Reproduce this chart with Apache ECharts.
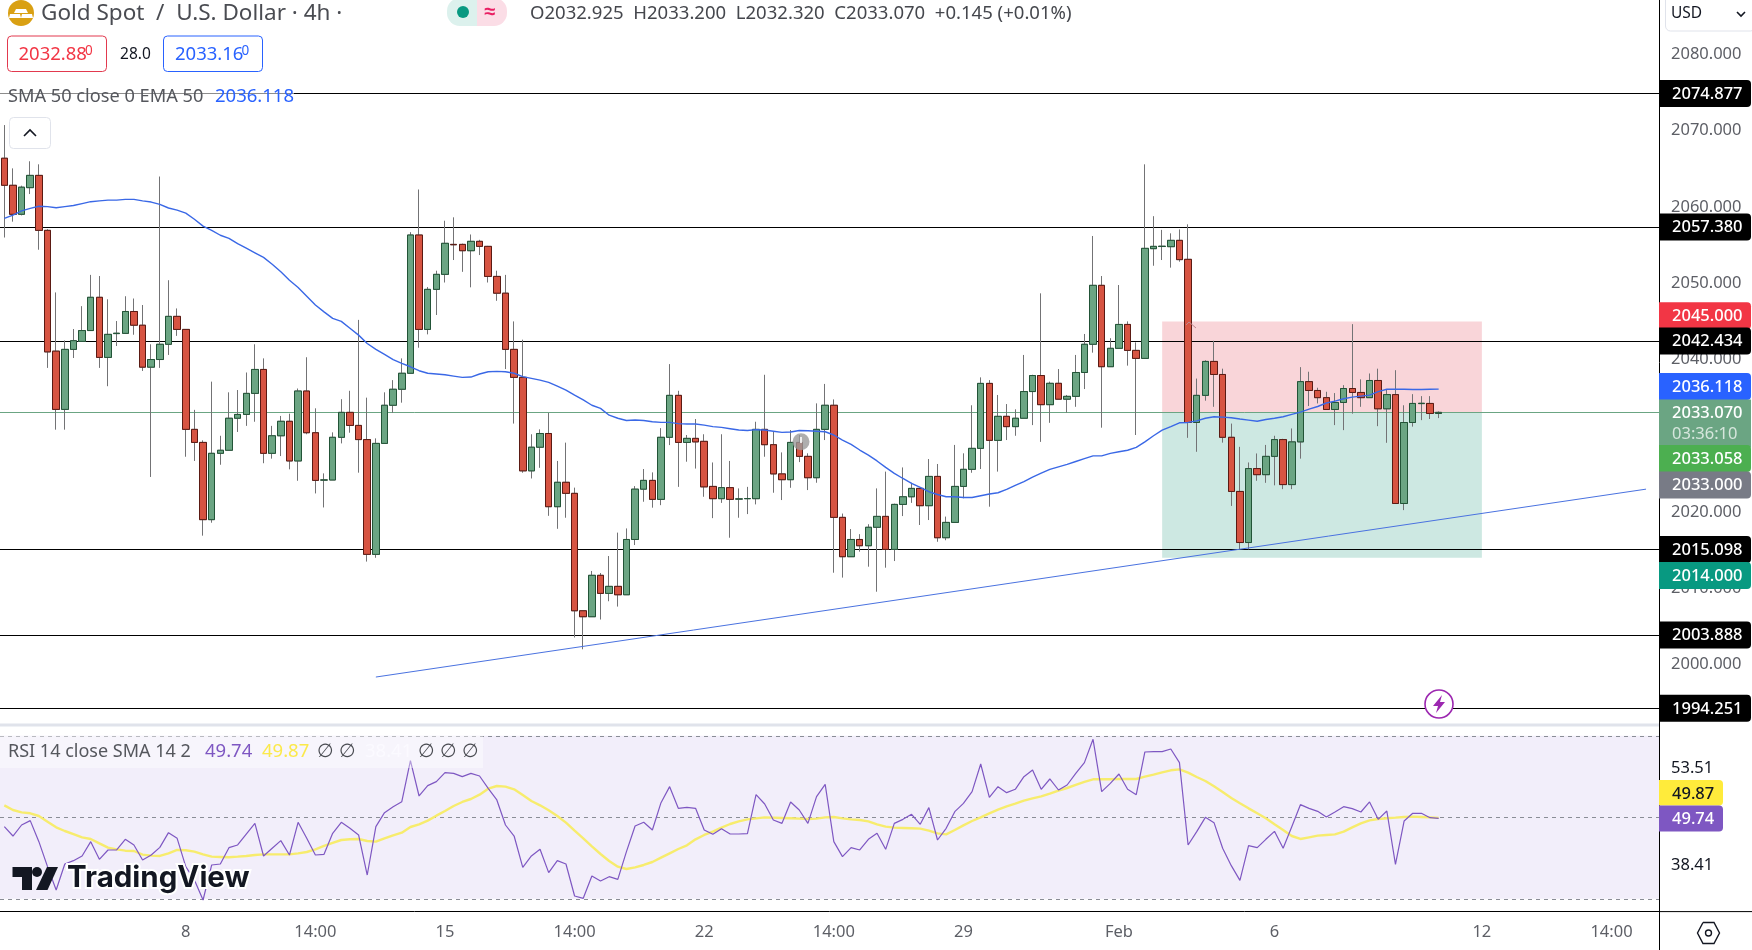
<!DOCTYPE html>
<html><head><meta charset="utf-8">
<style>html,body{margin:0;padding:0;background:#fff}#c{width:1752px;height:950px}</style>
<script src="https://cdn.jsdelivr.net/npm/echarts@6/dist/echarts.min.js"></script>
</head><body><div id="c"></div>
<script>
const opens=[2066.4,2062.85,2059.05,2062.54,2064.15,2056.94,2041.1,2033.46,2041.33,2042.38,
2043.8,2048.16,2040.28,2043.4,2043.43,2046.3,2044.5,2039,2040,2042,
2045.66,2043.95,2030.84,2029.13,2019,2027.7,2028.1,2032.3,2032.8,2035.56,
2038.7,2027.7,2030,2031.9,2026.7,2035.87,2030.4,2024.2,2024.2,2029.8,
2033.07,2031.36,2029.5,2014.45,2029,2034,2036.1,2038.2,2056.33,2043.95,
2049.2,2051.17,2055.1,2055.1,2054.27,2055.5,2054.84,2050.9,2048.7,2041.33,
2037.66,2025.4,2028.5,2030.3,2020.7,2023.9,2022.45,2007.05,2006.27,2011.7,
2009.33,2010.25,2009.15,2016.4,2023,2024.15,2021.66,2029.8,2035.3,2029.13,
2029.66,2029.27,2023.36,2021.75,2023.2,2021.7,2021.75,2021.75,2030.84,2028.83,
2025,2024.24,2029.13,2027.3,2024.5,2030.84,2034,2019.3,2014.14,2016.4,
2015.58,2018,2019.43,2015.1,2021,2022,2023.1,2020.83,2024.67,2016.63,
2018.64,2023.36,2025.6,2028.35,2036.87,2029.4,2032.55,2031.2,2032.3,2035.8,
2037.9,2034.08,2036.88,2034.8,2035.17,2038.3,2042,2049.73,2039.06,2041.47,
2044.6,2041.2,2040.15,2054.54,2054.82,2054.8,2055.63,2053.14,2031.74,2035.3,
2039.75,2038.04,2029.8,2022.7,2016,2025.7,2024.9,2027.3,2029.5,2023.6,
2029.2,2037.1,2035.94,2035,2033.45,2034.37,2036.2,2035.68,2035,2037.25,
2033.54,2035.4,2021.12,2031.74,2034.22,2034.24,2032.925];
const closes=[2062.85,2059.05,2062.6,2064.15,2056.94,2041.0,2033.46,2041.33,2042.47,2043.8,
2048.16,2040.28,2043.3,2043.45,2046.3,2044.5,2039,2040,2042,2045.66,
2043.95,2030.84,2029.13,2019,2027.7,2028.1,2032.3,2032.8,2035.56,2038.7,
2027.7,2030,2031.9,2026.7,2035.87,2030.4,2024.15,2024.2,2029.8,2033.07,
2031.36,2029.5,2014.45,2029,2034,2036.1,2038.2,2056.33,2043.95,2049.2,
2051.17,2055.24,2055.05,2054.27,2055.5,2054.84,2050.9,2048.7,2041.33,2037.66,
2025.4,2028.5,2030.3,2020.7,2023.9,2022.45,2007.05,2006.27,2011.7,2009.33,
2010.25,2009.15,2016.4,2023,2024.15,2021.66,2029.8,2035.3,2029.13,2029.66,
2029.2,2023.3,2021.75,2023.2,2021.66,2021.72,2021.77,2030.84,2028.83,2025,
2024.24,2029.13,2027.3,2024.5,2030.84,2034,2019.3,2014.14,2016.4,2015.58,
2018,2019.43,2015.1,2021,2022,2023.1,2020.83,2024.67,2016.63,2018.64,
2023.36,2025.6,2028.35,2036.87,2029.4,2032.55,2031.2,2032.3,2035.8,2037.9,
2034.08,2036.88,2034.8,2035.17,2038.3,2042,2049.73,2039.06,2041.47,2044.6,
2041.2,2040.15,2054.58,2054.84,2054.86,2055.63,2053.1,2031.74,2035.3,2039.75,
2038.04,2029.8,2022.7,2016,2025.7,2024.9,2027.3,2029.5,2023.6,2029.2,
2037.1,2035.94,2035,2033.45,2034.37,2036.2,2035.68,2035,2037.25,2033.54,
2035.4,2021.12,2031.74,2034.24,2034.26,2032.93,2033.07];
const highs=[2070.75,2065.07,2062.8,2066,2065.6,2057.1,2048.8,2042.5,2044,2047,
2051.1,2050.95,2047.9,2045.05,2048.3,2048,2047.15,2042,2064,2050.4,
2046.7,2044,2033.4,2029.4,2037.1,2030,2035.7,2036,2038.3,2042,
2040.15,2031.3,2032.6,2032.9,2036.2,2040.3,2033.6,2025.07,2030.45,2034.8,
2035.9,2045.2,2035,2029.66,2035.7,2037.3,2040.15,2056.7,2062.3,2049.5,
2051.65,2058.2,2058.65,2055.2,2056.4,2055.7,2054.9,2051.65,2051.1,2045,
2042.6,2030.2,2030.84,2033,2026.7,2029.1,2023.2,2007.05,2012.27,2012,
2014.23,2017.3,2017.85,2023.4,2025.64,2025.2,2031,2039.4,2035.9,2030.1,
2032.2,2030.2,2026.5,2030.2,2026.7,2023.1,2023.3,2031.84,2038,2030.58,
2027.82,2030.75,2030.1,2027.7,2034.25,2036.8,2034.77,2019.8,2017.77,2017.1,
2018.4,2023.1,2025.3,2021.1,2025.85,2023.84,2023.15,2026.95,2026.3,2019.4,
2028.8,2027.7,2034,2037.66,2037.3,2035.35,2034.16,2033.47,2040.6,2038.0,
2048.68,2037.1,2038.75,2035.35,2040.6,2043.35,2056.2,2050.95,2042.8,2049.77,
2045,2042.25,2065.6,2058.8,2057,2056.55,2057.07,2057.73,2037.5,2039.9,
2042.46,2038.8,2031.6,2028.55,2026.5,2027.68,2028.8,2030,2029.6,2030.96,
2039,2038.4,2036.3,2035.77,2035.6,2036.64,2044.64,2037.4,2038.17,2038.8,
2036.1,2038.6,2034,2035.46,2035.2,2035.2,2033.2];
const lows=[2056,2058.08,2058.9,2061.7,2054.4,2038.9,2030.8,2030.8,2040.2,2042.38,
2043.8,2038.9,2036.5,2041.77,2043.4,2043.25,2038.5,2024.6,2038.9,2040.6,
2043.1,2027.25,2026.7,2016.9,2018.6,2026.2,2028.1,2030.5,2031.3,2031.84,
2026.4,2027,2027.34,2025.6,2024.1,2030.2,2022.44,2020.6,2024.2,2029,
2030.4,2025.16,2013.5,2014,2029,2033,2034.34,2038.2,2041.55,2043.3,
2045.84,2050.1,2053.05,2051.5,2049.47,2053.7,2050.1,2047.7,2038.75,2031.6,
2025.15,2024.4,2025.8,2019.5,2017.8,2019.25,2003.55,2002,2006.27,2005.9,
2008.3,2007.6,2009.15,2015.67,2021.35,2020.57,2020.9,2028.78,2023.3,2026.6,
2025.7,2022,2019.2,2021.2,2016.63,2019.25,2019.73,2021,2027.25,2022.53,
2021.57,2023.18,2026.55,2022.88,2023.84,2029.44,2012.04,2011.4,2014.14,2014.8,
2012.83,2009.55,2012.7,2013.57,2019.47,2021.2,2018.3,2018.95,2016.1,2016.3,
2018.64,2021.8,2025.15,2025.64,2020.7,2025.3,2029.44,2030,2032.3,2031.4,
2029.2,2031.7,2034.8,2033.03,2033.8,2036.13,2040.9,2031.06,2039.06,2041.47,
2039.2,2030.1,2040.15,2052.3,2053.05,2052.05,2052.83,2029.73,2027.9,2034.6,
2033.8,2029.1,2020.8,2015.1,2015.1,2024.1,2023.83,2023.5,2023,2023,
2027,2033.9,2034.24,2033.45,2031.4,2030.74,2032.9,2033.8,2035,2031.26,
2029.08,2021.12,2020.25,2031.2,2032.05,2032.2,2032.32];
const ema50=[2058.5,2058.95,2059.5,2059.83,2060.1,2060.05,2059.9,2060.05,2060.2,2060.45,
2060.7,2060.8,2060.9,2060.9,2061,2061,2060.8,2060.65,2060.35,2059.87,
2059.6,2059.2,2058.4,2057.5,2056.95,2056.3,2055.9,2055.2,2054.6,2054,
2053.4,2052.5,2051.5,2050.4,2049.45,2048.3,2047.15,2046.25,2045.4,2045,
2044.1,2043.2,2042.1,2041.33,2040.67,2040,2039.5,2039.05,2038.53,2038.2,
2038.1,2038,2037.83,2037.66,2037.7,2038.1,2038.4,2038.45,2038.4,2038.2,
2037.75,2037.53,2037.3,2037,2036.5,2036,2035.34,2034.7,2034,2033.6,
2032.7,2032.3,2032,2032.06,2032,2031.84,2031.76,2031.76,2031.6,2031.54,
2031.54,2031.4,2031.2,2031.1,2030.93,2030.75,2030.7,2030.8,2030.75,2030.6,
2030.44,2030.5,2030.7,2030.66,2030.6,2030.53,2030.1,2029.44,2028.87,2028.13,
2027.47,2026.7,2025.85,2025.07,2024.4,2023.76,2023.23,2022.66,2022.3,2022,
2022,2021.9,2021.9,2022.14,2022.36,2022.53,2022.96,2023.5,2024,2024.58,
2025.1,2025.6,2025.93,2026.24,2026.63,2027,2027.37,2027.37,2027.7,2027.9,
2028.1,2028.47,2029.2,2030,2030.74,2031.2,2031.7,2031.75,2031.96,2032.3,
2032.5,2032.45,2032.36,2032.2,2032.05,2031.9,2032.14,2032.3,2032.5,2032.8,
2033.1,2033.5,2033.84,2034.3,2034.54,2034.85,2035.07,2035.2,2035.33,2035.8,
2036.1,2036.1,2036.1,2036.07,2036.07,2036.1,2036.118];
const rsi=[47.7,45.41,48.11,49.18,44.02,37.89,32.16,38.54,39.36,40.51,
44.02,39.69,41.98,41.98,44.6,43.21,39.52,40.75,42.63,46.23,
44.84,37.89,34.62,29.71,38.3,38.54,42.55,43.21,45.9,48.52,
40.51,42.39,44.27,40.75,48.77,44.84,40.75,40.91,46.07,48.77,
47.3,45.66,35.84,47.7,51.14,52.61,53.84,63.9,55.23,57.77,
58.75,60.96,60.79,59.97,60.79,60.14,57.11,54.25,48.11,45.41,
37.72,40.51,42.14,36.42,39.36,38.54,30.69,30.12,35.6,34.37,
35.43,34.78,41.57,47.87,48.77,46.89,53.59,57.52,52.2,52.45,
52.2,46.89,45.82,47.21,45.9,45.9,45.99,55.56,53.27,49.34,
48.52,53.76,51.79,48.52,55.07,58.09,44.02,40.34,42.55,41.98,
44.6,46.07,42.14,48.52,49.5,50.73,48.28,52.37,44.43,47.3,
51.38,53.43,56.29,63.08,54.9,57.52,56.05,56.87,59.97,61.61,
56.87,59.4,56.7,57.93,60.79,63.41,69.14,56.29,58.34,60.63,
56.87,55.56,66.03,66.11,66.11,66.76,63.41,43.21,46.48,49.99,
48.69,42.39,38.13,34.53,43.04,42.55,44.6,46.56,42.39,47.7,
53.1,52.2,51.47,50.08,51.3,52.61,52.12,51.3,53.76,49.5,
51.55,38.46,49.09,50.98,50.98,49.91,49.74];
const rsiMa=[52.94,51.79,51.22,50.98,50.32,48.93,47.54,46.64,45.9,45.09,
44.68,43.61,42.55,42.14,41.81,41.73,40.83,40.59,40.51,41.16,
41.98,41.9,41.57,40.91,40.34,40.26,40.18,40.34,40.51,40.75,
40.91,40.91,40.91,40.91,41.16,41.49,42.14,42.96,43.7,44.43,
44.6,44.68,44.19,44.02,44.84,45.58,46.23,47.62,48.28,49.18,
50.4,51.55,52.78,53.76,54.49,55.56,57.03,57.68,57.52,56.87,
55.48,54,52.94,51.71,50.32,48.69,46.72,44.84,42.88,41,
39.28,37.89,37.32,37.72,38.3,39.03,40.1,41.16,42.22,43.12,
44.6,45.66,46.48,47.46,48.36,49.01,49.5,49.75,49.99,49.91,
49.83,49.75,49.67,49.59,49.67,49.99,50.08,49.75,49.5,49.34,
49.01,48.28,47.7,47.46,47.38,47.3,47.21,46.72,46.07,45.82,
46.89,48.03,49.09,49.99,50.98,51.88,52.69,53.35,54.08,54.66,
55.15,55.8,56.54,57.19,57.93,58.67,59.32,59.32,59.32,59.4,
59.4,59.4,59.97,60.46,61.04,61.53,61.77,60.96,59.89,58.91,
57.6,56.21,54.74,53.43,52.2,50.98,49.75,48.28,46.89,45.41,
44.68,45.09,45.5,45.66,45.82,46.48,47.54,48.52,49.26,49.59,
49.75,49.91,50.08,50.16,50.08,49.99,49.87];
const blackLevels=[2074.877,2057.38,2042.434,2015.098,2003.888,1994.251];
const lastPrice=2033.07;
const priceTicks=[2000,2010,2020,2030,2040,2050,2060,2070,2080];
const rsiLevels=[70,50,30];
const tickIndex=[21,36,51,66,81,96,111,129,147,171,186];
const tickText=['8','14:00','15','14:00','22','14:00','29','Feb','6','12','14:00'];
const trendIndex=[43,190];
const trendPrice=[1998.36,2023.0];
const stopZone=[134,171,2045,2033];
const targetZone=[134,171,2033,2014];

const SLOTS=192, AXIS_X=1659, PANE_SPLIT=725, AXIS_Y=911.6;
const FONT='"Noto Sans",sans-serif';
const GREY='#5d5f66';
const categories=Array.from({length:SLOTS},(_,i)=>String(i));
const tickMap=new Map(tickIndex.map((v,i)=>[v,tickText[i]]));
const ohlc=opens.map((o,i)=>[o,closes[i],lows[i],highs[i]]);
const bodies=opens.map((o,i)=>[o,closes[i],Math.min(o,closes[i]),Math.max(o,closes[i])]);

const chart=echarts.init(document.getElementById('c'),null,{renderer:'canvas',width:1752,height:950});
const hl=(v,color,w)=>({yAxis:v,lineStyle:{color,width:w,type:'solid'}});
chart.setOption({
 animation:false,backgroundColor:'#fff',
 grid:[{left:0,width:AXIS_X,top:0,height:PANE_SPLIT},{left:0,width:AXIS_X,top:PANE_SPLIT,height:AXIS_Y-PANE_SPLIT}],
 xAxis:[
  {type:'category',gridIndex:0,data:categories,axisLine:{show:false},axisTick:{show:false},axisLabel:{show:false},splitLine:{show:false}},
  {type:'category',gridIndex:1,data:categories,axisLine:{show:true,onZero:false,lineStyle:{color:'#000',width:1}},axisTick:{show:false},
   axisLabel:{interval:(i)=>tickMap.has(i),formatter:(v,i)=>tickMap.get(i)||'',color:GREY,fontFamily:FONT,fontSize:16.5,margin:12,hideOverlap:false},splitLine:{show:false}}
 ],
 yAxis:[
  {type:'value',gridIndex:0,position:'right',min:1992.07,max:2087.15,scale:true,splitLine:{show:false},axisTick:{show:false},
   axisLine:{show:true,lineStyle:{color:'#000',width:1}},
   axisLabel:{customValues:priceTicks,formatter:(v)=>v.toFixed(3),color:GREY,fontFamily:FONT,fontSize:16.5,margin:12}},
  {type:'value',gridIndex:1,position:'right',min:26.86,max:72.65,scale:true,splitLine:{show:false},axisTick:{show:false},
   axisLine:{show:true,lineStyle:{color:'#000',width:1}},axisLabel:{show:false}}
 ],
 series:[
  {type:'candlestick',name:'Wicks',xAxisIndex:0,yAxisIndex:0,data:ohlc,barWidth:7,z:3,
   itemStyle:{color:'#737375',color0:'#737375',borderColor:'#737375',borderColor0:'#737375',borderWidth:1},
   markArea:{silent:true,z:1,data:[
     [{xAxis:stopZone[0],yAxis:stopZone[2],itemStyle:{color:'#f9d5d9'}},{xAxis:stopZone[1],yAxis:stopZone[3]}],
     [{xAxis:targetZone[0],yAxis:targetZone[2],itemStyle:{color:'#cde8e2'}},{xAxis:targetZone[1],yAxis:targetZone[3]}]
   ]},
   markLine:{silent:true,symbol:'none',z:2,label:{show:false},precision:3,animation:false,data:[
     ...blackLevels.map(v=>hl(v,'#000',1.2)),hl(lastPrice,'#6ba583',1),
   ]}},
  {type:'candlestick',name:'Gold Spot / U.S. Dollar',xAxisIndex:0,yAxisIndex:0,data:bodies,barWidth:7,z:4,
   itemStyle:{color:'#6ba583',color0:'#d75442',borderColor:'#225437',borderColor0:'#5b1a13',borderWidth:1}},
  {type:'line',name:'EMA 50',xAxisIndex:0,yAxisIndex:0,data:ema50,showSymbol:false,symbol:'none',z:5,
   lineStyle:{color:'#3a68e6',width:1.4},
   markLine:{silent:true,symbol:'none',label:{show:false},z:5,data:[[
     {xAxis:trendIndex[0],yAxis:trendPrice[0],lineStyle:{color:'#4a72e0',width:1,type:'solid'}},
     {xAxis:trendIndex[1],yAxis:trendPrice[1]}]]}},
  {type:'line',name:'RSI',xAxisIndex:1,yAxisIndex:1,data:rsi,showSymbol:false,symbol:'none',z:5,
   lineStyle:{color:'#7e57c2',width:1.2},
   markArea:{silent:true,z:1,itemStyle:{color:'#f2eefa'},data:[[{yAxis:rsiLevels[0]},{yAxis:rsiLevels[2]}]]},
   markLine:{silent:true,symbol:'none',label:{show:false},z:2,lineStyle:{color:'#8a8d96',width:1,type:[4,4]},
     data:rsiLevels.map(v=>({yAxis:v}))}},
  {type:'line',name:'RSI MA',xAxisIndex:1,yAxisIndex:1,data:rsiMa,showSymbol:false,symbol:'none',z:4,
   lineStyle:{color:'#f7ec6d',width:2.4}}
 ]
});

// overlays: header text, legends, axis price tags
const Z=100;
const txt=(x,y,text,color,size,o={})=>({type:'text',z:Z+(o.z||2),silent:true,x,y,style:{text,fill:color,font:`${o.weight||'normal'} ${size}px ${o.font||FONT}`,textAlign:o.align||'left',textVerticalAlign:'middle',stroke:o.stroke,lineWidth:o.lw||0}});
const rect=(x,y,w,h,fill,o={})=>({type:'rect',z:Z+(o.z||1),silent:true,shape:{x,y,width:w,height:h,r:o.r||0},style:{fill,stroke:o.stroke,lineWidth:o.lw||1}});
const poly=(points,fill,o={})=>({type:'polygon',z:Z+(o.z||2),silent:true,shape:{points},style:{fill}});
const pline=(points,stroke,w,o={})=>({type:'polyline',z:Z+(o.z||2),silent:true,shape:{points},style:{stroke,lineWidth:w,fill:'none'}});
const circ=(cx,cy,r,fill,o={})=>({type:'circle',z:Z+(o.z||1),silent:true,shape:{cx,cy,r},style:{fill,stroke:o.stroke,lineWidth:o.lw||1,opacity:o.op==null?1:o.op}});
const yOf=(v)=>chart.convertToPixel({yAxisIndex:0},v);

const TAG_W=92,TAG_H=27;
const tag=(label,y,bg,o={})=>[
 rect(AXIS_X,y-TAG_H/2,o.w||TAG_W,o.h||TAG_H,bg,{r:[0,4,4,0],z:o.z||3}),
 txt(AXIS_X+(o.tx||13),y+.5,label,o.color||'#fff',16.5,{weight:'500',z:(o.z||3)+1})
];
const els=[
 // top-right currency box
 rect(1665.5,-6,90,37,'#fff',{r:5,stroke:'#e0e3eb'}),
 txt(1671,14,'USD','#131722',15.5),
 pline([[1737,12],[1741,16],[1745,12]],'#131722',1.6),
 // title
 circ(21,13,13,'#d9a013'),
 poly([[16,9],[26,9],[28,13],[14,13]],'#fff'),poly([[10,14],[20,14],[21,18],[9,18]],'#fff'),poly([[22,14],[32,14],[33,18],[21,18]],'#fff'),
 txt(41,13.5,'Gold Spot  /  U.S. Dollar · 4h ·','#4a4c52',22.5),
 rect(447,-2,30,28,'#dcf1ed',{r:[13,0,0,13]}),rect(477,-2,30,28,'#fbdde6',{r:[0,13,13,0]}),
 circ(463,12,6,'#089981',{z:2}),
 txt(490,12,'≈','#e91e63',20,{align:'center',weight:'bold'}),
 txt(530,14,'O2032.925  H2033.200  L2032.320  C2033.070  +0.145 (+0.01%)','#45474d',18.55),
 // bid / ask
 rect(7.5,36,99,35.5,'#fff',{r:4,stroke:'#e2394e',lw:1}),
 txt(18.5,55,'2032.88','#f23645',18.5),txt(85,51,'0','#f23645',13.5),
 txt(135.5,54.5,'28.0','#131722',15.5,{align:'center'}),
 rect(163.5,36,99,35.5,'#fff',{r:4,stroke:'#2962ff',lw:1}),
 txt(175,55,'2033.16','#2962ff',18.5),txt(241.5,51,'0','#2962ff',13.5),
 // moving average legend
 rect(0,82,294,28,'rgba(255,255,255,0.55)'),
 txt(8,97,'SMA 50 close 0 EMA 50','#55575d',18.2),
 txt(215,97,'2036.118','#2962ff',18.5),
 rect(9.5,117.5,41,31,'#fff',{r:4,stroke:'#e0e3eb'}),
 pline([[24,136],[30,130],[36,136]],'#131722',1.6),
 // chart markers
 circ(801,441.7,8.5,'#9a9a9a',{z:1,op:.8}),
 pline([[801,437],[801,443]],'#fff',1.6),
 pline([[1186,325],[1189,322],[1196,328]],'#c08a90',1),
 circ(1439,704,14,'#fff',{z:1,stroke:'#9c27b0',lw:1.6}),
 poly([[1442,695],[1433,706],[1438,706],[1436,713],[1445,702],[1440,702]],'#9c27b0'),
 // pane separator + axis line extension
 rect(0,723.5,AXIS_X,3,'#e0e3eb',{z:0}),
 pline([[AXIS_X,AXIS_Y],[1752,AXIS_Y]],'#000',1),
 pline([[AXIS_X+.5,AXIS_Y],[AXIS_X+.5,950]],'#000',1),
 // RSI legend
 rect(0,736,483,32,'rgba(255,255,255,0.4)'),
 txt(8,751.5,'RSI 14 close SMA 14 2','#55575d',18),
 txt(205,751.5,'49.74','#7e57c2',18.5),txt(262,751.5,'49.87','#fbe94b',18.5),
 txt(325,751.5,'∅','#4a4c52',19,{align:'center'}),txt(347,751.5,'∅','#4a4c52',19,{align:'center'}),
 txt(365,751.5,'38.41','#fbfaff',18.5),
 txt(426,751.5,'∅','#4a4c52',19,{align:'center'}),txt(448,751.5,'∅','#4a4c52',19,{align:'center'}),txt(470,751.5,'∅','#4a4c52',19,{align:'center'}),
 // TradingView logo
 poly([[12.5,867],[32,867],[32,890],[22,890],[22,877],[12.5,877]],'#131722',{z:3}),
 circ(37,872,5,'#131722',{z:3}),
 poly([[47,867],[58,867],[47.5,890],[36,890]],'#131722',{z:3}),
 txt(67,878,'TradingView','#fff',29.5,{z:2,weight:'700',font:'Inter,sans-serif',stroke:'#fff',lw:4}),
 txt(67,878,'TradingView','#131722',29.5,{z:3,weight:'700',font:'Inter,sans-serif'}),
 // RSI axis labels
 rect(AXIS_X+1,754,62,27,'#fff'),txt(1671,768,'53.51','#131722',16.5),
 rect(AXIS_X+1,852,62,27,'#fff'),txt(1671,865.5,'38.41','#131722',16.5),
 ...tag('49.87',793.5,'#ffeb3b',{w:64,h:25.5,color:'#131722'}),
 ...tag('49.74',819,'#7e57c2',{w:64,h:26}),
 // main axis price tags
 ...tag('2074.877',yOf(2074.877),'#000'),
 ...tag('2057.380',yOf(2057.38),'#000'),
 ...tag('2045.000',315.7,'#f23645'),
 ...tag('2042.434',yOf(2042.434),'#000'),
 ...tag('2036.118',386.5,'#2962ff'),
 rect(AXIS_X,399.5,TAG_W,48,'#6ba583',{z:3}),
 txt(AXIS_X+13,413,'2033.070','#fff',16.5,{weight:'500',z:4}),
 txt(AXIS_X+13,434,'03:36:10','rgba(255,255,255,.72)',16.5,{z:4}),
 ...tag('2033.058',458.5,'#4caf50'),
 ...tag('2033.000',485,'#787b86'),
 ...tag('2015.098',yOf(2015.098),'#000'),
 ...tag('2014.000',575.5,'#089981'),
 ...tag('2003.888',yOf(2003.888),'#000'),
 ...tag('1994.251',yOf(1994.251),'#000'),
 // settings icon
 poly([[1703,922.5],[1714,922.5],[1719.5,933],[1714,943.5],[1703,943.5],[1697.5,933]],'#fff'),
 pline([[1703,922.5],[1714,922.5],[1719.5,933],[1714,943.5],[1703,943.5],[1697.5,933],[1703,922.5]],'#131722',1.4),
 circ(1708.5,933,3,'#fff',{z:3,stroke:'#131722',lw:1.4}),
];
chart.setOption({graphic:{elements:els}});
</script></body></html>
